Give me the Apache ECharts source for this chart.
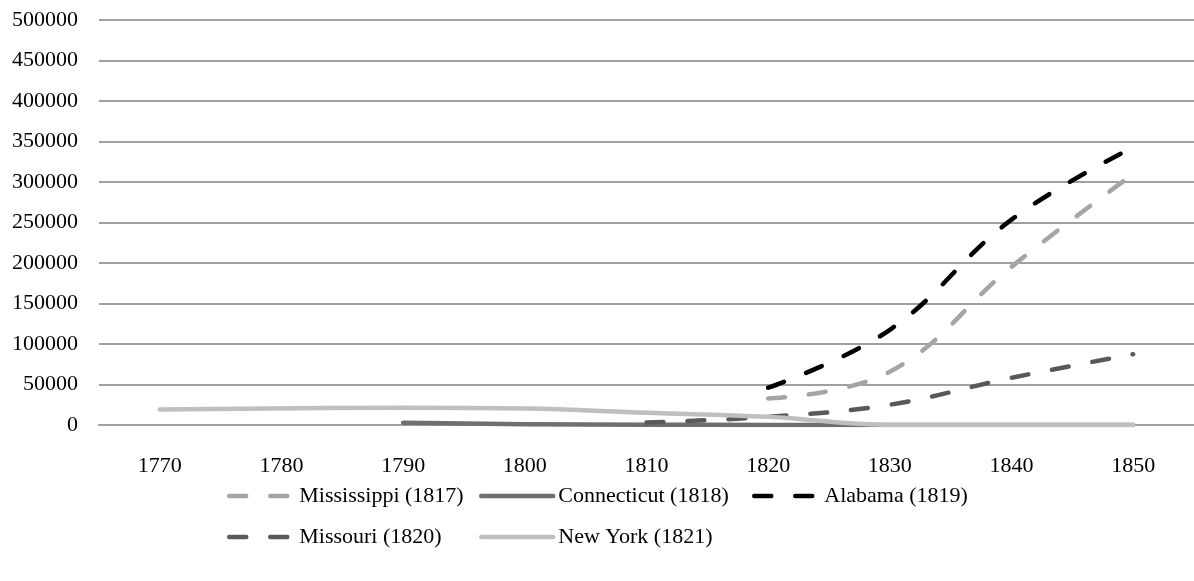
<!DOCTYPE html>
<html>
<head>
<meta charset="utf-8">
<script src="https://cdn.jsdelivr.net/npm/echarts@6/dist/echarts.min.js"></script>
<style>
  html, body { margin: 0; padding: 0; background: #ffffff; }
  #chart { width: 1194px; height: 581px; }
</style>
</head>
<body>
<div id="chart"></div>
<script>
// Census years on the horizontal axis
const years = ['1770', '1780', '1790', '1800', '1810', '1820', '1830', '1840', '1850'];

// Enslaved population per state by census year (null = no count)
const mississippi = [null, null, null, null, null, 32814, 65659, 195211, 309878];
const connecticut = [null, null, 2764, 951, 310, 97, 25, 17, 0];
const alabama     = [null, null, null, null, null, 46000, 117549, 253532, 342844];
const missouri    = [null, null, null, null, 3011, 10222, 25091, 58240, 87422];
const newYork     = [19112, null, 21324, 20343, 15017, 10088, 75, 4, 0];

const seriesNames = ['Mississippi (1817)', 'Connecticut (1818)', 'Alabama (1819)', 'Missouri (1820)', 'New York (1821)'];

const FONT = 'Liberation Serif';
const LINE_W = 4.5;
const dash = [17, 24];

function lineSeries(name, data, color, dashed) {
  return {
    name: name,
    type: 'line',
    data: data,
    connectNulls: true,
    smooth: 0.4,
    symbol: 'none',
    lineStyle: { color: color, width: LINE_W, type: dashed ? dash : 'solid', cap: 'round', join: 'round' },
    itemStyle: { color: color },
    emphasis: { disabled: true }
  };
}

const legendText = { fontFamily: FONT, fontSize: 22, color: '#000', lineHeight: 26 };

// one legend column per group of entries, laid out in two rows
function legendColumn(names, left, iconWidth, dashed, textPad) {
  return {
    data: names,
    orient: 'vertical', left: left, top: 478,
    itemWidth: iconWidth, itemHeight: 14, itemGap: 15,
    itemStyle: { opacity: 0 },
    lineStyle: { width: LINE_W, type: dashed ? dash : 'solid', cap: 'round' },
    textStyle: Object.assign({ padding: [0, 0, 0, textPad] }, legendText),
    selectedMode: false
  };
}

const chart = echarts.init(document.getElementById('chart'), null, { renderer: 'canvas' });
chart.setOption({
  animation: false,
  backgroundColor: '#ffffff',
  grid: { left: 99, right: -7, top: 20, bottom: 156, containLabel: false },
  xAxis: {
    type: 'category',
    data: years,
    boundaryGap: true,
    axisLine: { show: true, lineStyle: { color: '#a0a0a0', width: 2 } },
    axisTick: { show: false },
    axisLabel: { fontFamily: FONT, fontSize: 22, color: '#000', margin: 30 }
  },
  yAxis: {
    type: 'value',
    min: 0,
    max: 500000,
    interval: 50000,
    axisLine: { show: false },
    axisTick: { show: false },
    splitLine: { lineStyle: { color: '#a0a0a0', width: 2 } },
    axisLabel: { fontFamily: FONT, fontSize: 22, color: '#000', margin: 21, formatter: v => String(v) }
  },
  legend: [
    legendColumn([seriesNames[0], seriesNames[3]], 222, 60, true, 5),
    legendColumn([seriesNames[1], seriesNames[4]], 474, 72, false, 0),
    legendColumn([seriesNames[2]], 747, 60, true, 5)
  ],
  series: [
    lineSeries(seriesNames[0], mississippi, '#a5a5a5', true),
    lineSeries(seriesNames[1], connecticut, '#6f6f6f', false),
    lineSeries(seriesNames[2], alabama, '#000000', true),
    lineSeries(seriesNames[3], missouri, '#595959', true),
    lineSeries(seriesNames[4], newYork, '#bfbfbf', false)
  ]
});
</script>
</body>
</html>
